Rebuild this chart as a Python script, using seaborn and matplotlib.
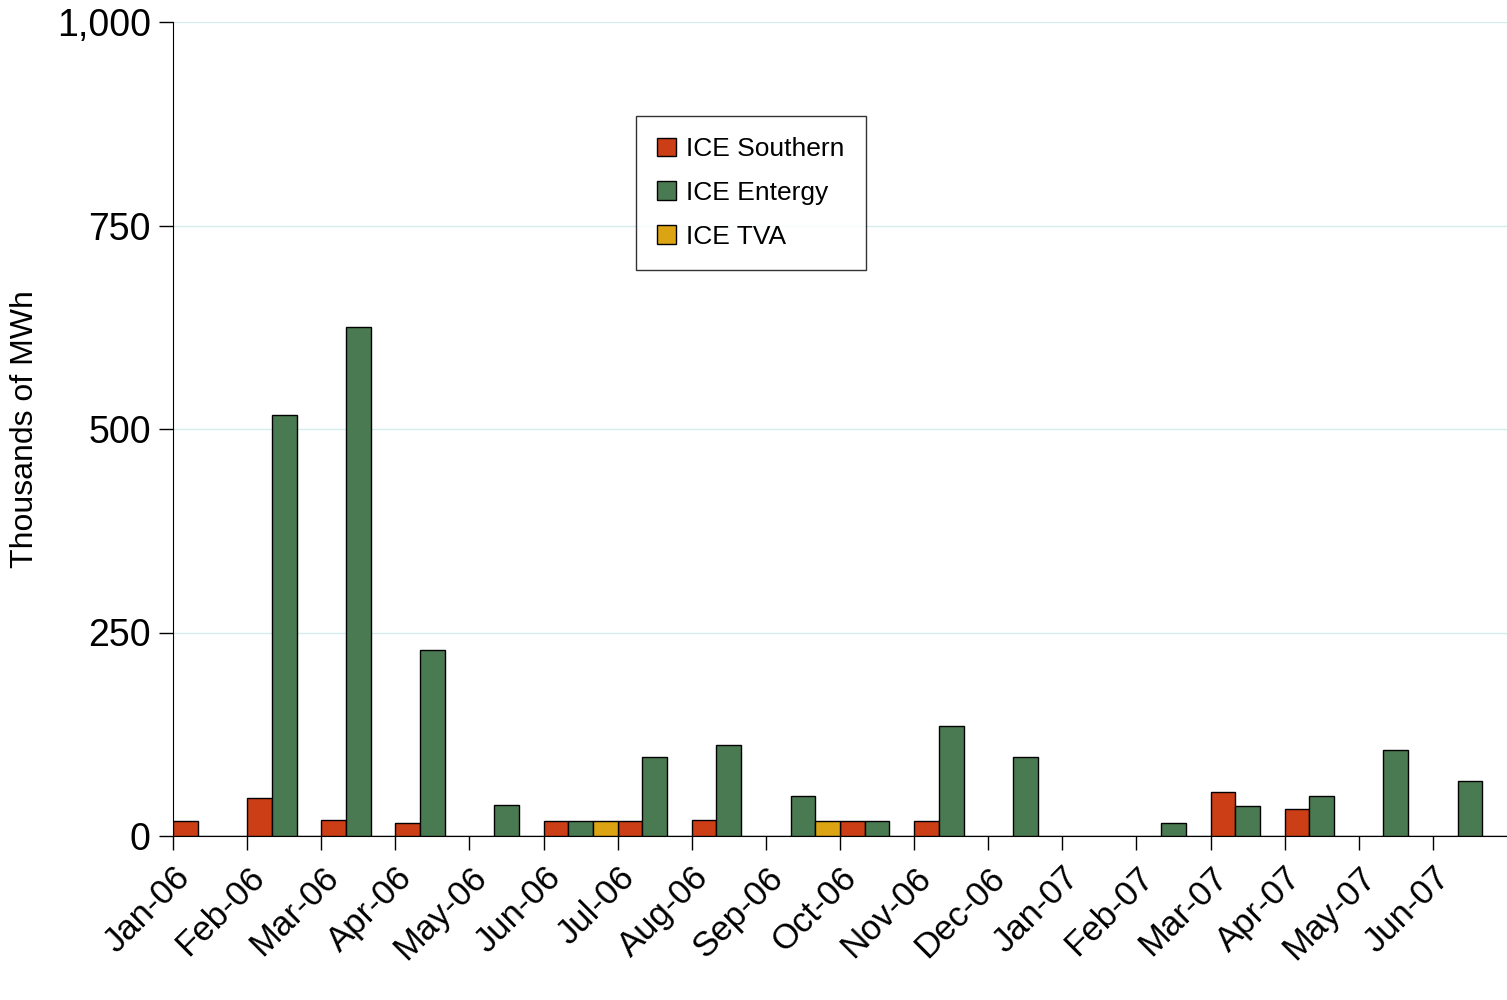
import matplotlib
matplotlib.use("Agg")
import matplotlib.pyplot as plt
import seaborn as sns
import pandas as pd

months = ["Jan-06", "Feb-06", "Mar-06", "Apr-06", "May-06", "Jun-06", "Jul-06", "Aug-06",
          "Sep-06", "Oct-06", "Nov-06", "Dec-06", "Jan-07", "Feb-07", "Mar-07", "Apr-07",
          "May-07", "Jun-07"]
southern = [18, 47, 20, 16, 0, 18, 18, 20, 0, 18, 18, 0, 0, 0, 54, 33, 0, 0]
entergy = [0, 517, 625, 228, 38, 18, 97, 112, 49, 18, 135, 97, 0, 16, 37, 49, 106, 68]
tva = [0, 0, 0, 0, 0, 18, 0, 0, 18, 0, 0, 0, 0, 0, 0, 0, 0, 0]

df = pd.DataFrame({
    "month": months * 3,
    "value": southern + entergy + tva,
    "series": ["ICE Southern"] * 18 + ["ICE Entergy"] * 18 + ["ICE TVA"] * 18,
})

sns.set_style("white")
plt.rcParams["font.family"] = ["Liberation Sans", "DejaVu Sans"]
plt.rcParams["text.color"] = "black"
plt.rcParams["xtick.color"] = "black"
plt.rcParams["ytick.color"] = "black"
plt.rcParams["axes.labelcolor"] = "black"

fig = plt.figure(figsize=(15.07, 10), dpi=100)
ax = fig.add_axes([173 / 1507, 1 - 836 / 1000, (1507 - 173) / 1507, (836 - 22) / 1000])

palette = {"ICE Southern": "#cc3e16", "ICE Entergy": "#4a7a52", "ICE TVA": "#dca313"}
sns.barplot(data=df, x="month", y="value", hue="series", palette=palette, width=1.0,
            saturation=1, edgecolor="black", linewidth=1, ax=ax, zorder=3)

ax.set_xlim(-0.5, 17.5)
ax.set_ylim(0, 1000)
ax.set_xticks([i - 0.5 for i in range(18)])
ax.set_xticklabels(months, rotation=45, ha="right", rotation_mode="anchor", fontsize=25)
ax.set_yticks([0, 250, 500, 750, 1000])
ax.set_yticklabels(["0", "250", "500", "750", "1,000"], fontsize=27)
ax.tick_params(axis="x", length=10, direction="out", bottom=True, width=1, pad=8)
ax.tick_params(axis="y", length=10, direction="out", left=True, width=1, pad=6)
ax.set_xlabel("")
ax.set_ylabel("Thousands of MWh", fontsize=23, labelpad=12)
ax.yaxis.grid(True, color="#d6ecec", linewidth=1, zorder=0)
for side in ["top", "right"]:
    ax.spines[side].set_visible(False)
for side in ["left", "bottom"]:
    ax.spines[side].set_color("black")

leg = ax.legend(loc="upper left", bbox_to_anchor=((636 - 173) / 1334, (836 - 116) / 814),
                borderaxespad=0, fontsize=19, frameon=True, fancybox=False, edgecolor="black",
                handlelength=0.7, handleheight=0.7, handletextpad=0.4,
                borderpad=0.8, labelspacing=0.75)
leg.get_frame().set_linewidth(1)

fig.savefig("out.png", dpi=100)
